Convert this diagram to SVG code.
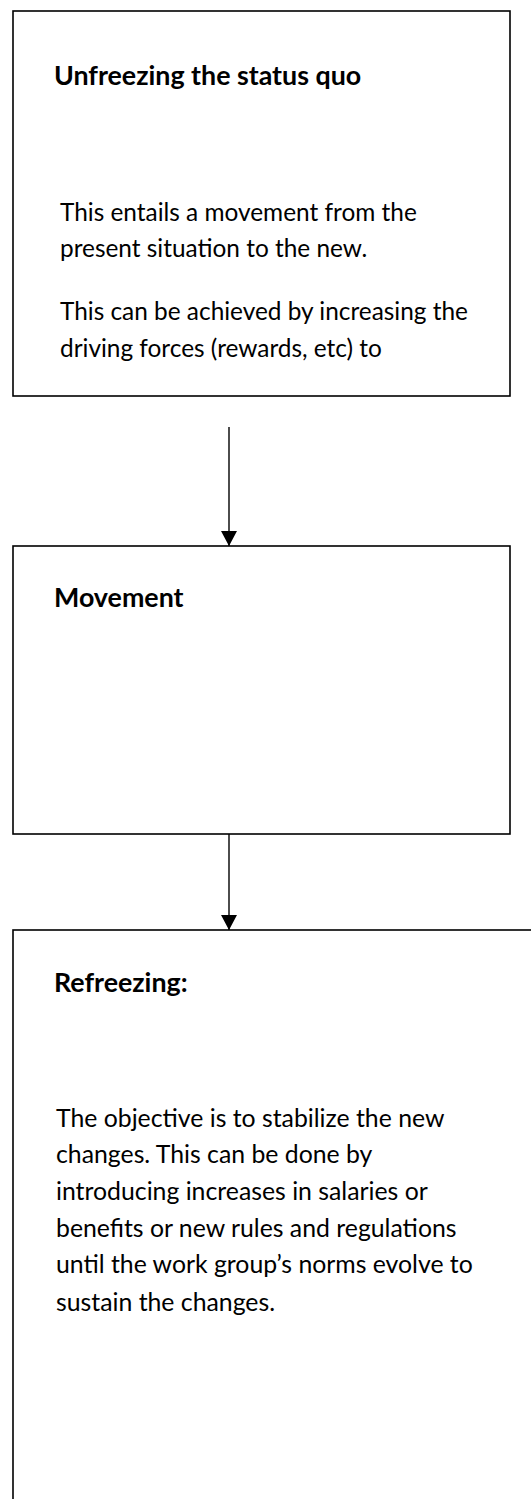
<svg xmlns="http://www.w3.org/2000/svg" width="531" height="1499" viewBox="0 0 531 1499">
  <style>
    .box { fill: #ffffff; stroke: #000000; stroke-width: 1.6; }
    .title { font-family: Lato, "Liberation Sans", sans-serif; font-weight: bold; font-size: 26.8px; fill: #000000; }
    .body { font-family: Lato, "Liberation Sans", sans-serif; font-size: 24.4px; fill: #000000; }
    .body-lg { font-family: Lato, "Liberation Sans", sans-serif; font-size: 24.8px; fill: #000000; }
    .link { stroke: #000000; stroke-width: 1.4; fill: none; }
  </style>
  <defs>
    <marker id="arrow" viewBox="0 0 15 16" refX="15" refY="8" markerWidth="15" markerHeight="16" markerUnits="userSpaceOnUse" orient="auto">
      <path d="M0,0 L15,8 L0,16 Z" fill="#000000"/>
    </marker>
  </defs>
  <rect width="531" height="1499" fill="#ffffff"/>

  <g id="unfreezing">
    <rect class="box" x="13" y="11" width="497" height="385"/>
    <text class="title" x="54" y="85">Unfreezing the status quo</text>
    <text class="body" x="60" y="221">This entails a movement from the</text>
    <text class="body" x="60" y="257">present situation to the new.</text>
    <text class="body" x="60" y="320">This can be achieved by increasing the</text>
    <text class="body" x="60" y="357">driving forces (rewards, etc) to</text>
  </g>

  <g id="movement">
    <rect class="box" x="13" y="546" width="497" height="288"/>
    <text class="title" x="54" y="607">Movement</text>
  </g>

  <g id="refreezing">
    <rect class="box" x="13" y="930" width="540" height="600"/>
    <text class="title" x="54" y="992">Refreezing:</text>
    <text class="body-lg" x="56" y="1127">The objective is to stabilize the new</text>
    <text class="body-lg" x="56" y="1163">changes. This can be done by</text>
    <text class="body-lg" x="56" y="1200">introducing increases in salaries or</text>
    <text class="body-lg" x="56" y="1237">benefits or new rules and regulations</text>
    <text class="body-lg" x="56" y="1273">until the work group’s norms evolve to</text>
    <text class="body-lg" x="56" y="1311">sustain the changes.</text>
  </g>

  <g id="connectors">
    <line class="link" x1="229" y1="427" x2="229" y2="546" marker-end="url(#arrow)"/>
    <line class="link" x1="229" y1="834" x2="229" y2="930" marker-end="url(#arrow)"/>
  </g>
</svg>
